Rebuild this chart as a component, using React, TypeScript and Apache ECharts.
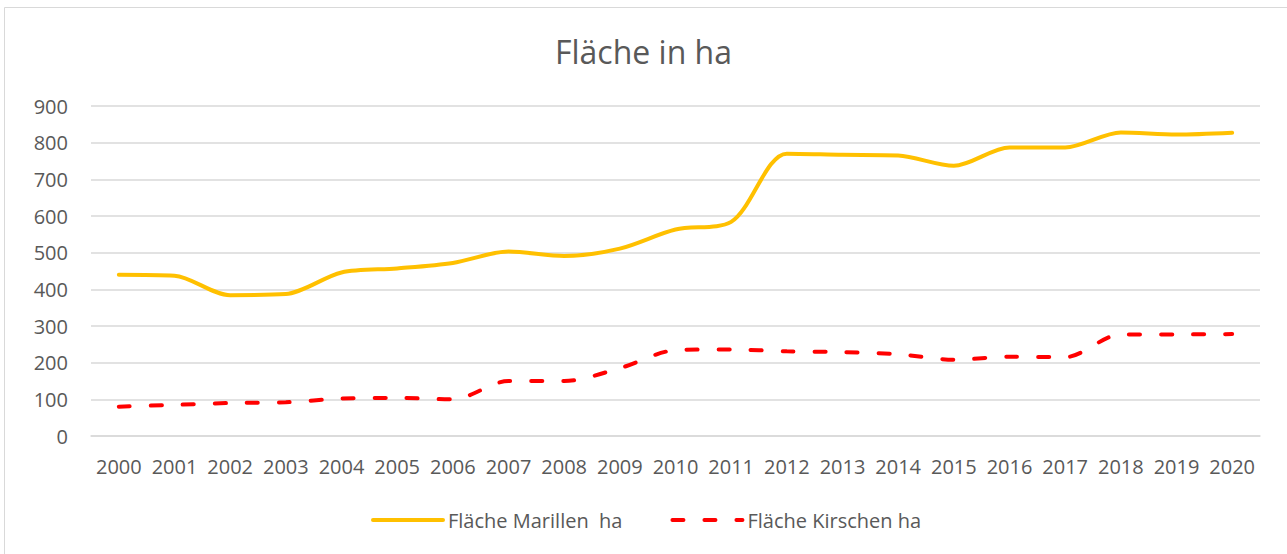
import React, { useEffect, useRef } from "react";
import * as echarts from "echarts";

const years = ["2000","2001","2002","2003","2004","2005","2006","2007","2008","2009","2010","2011","2012","2013","2014","2015","2016","2017","2018","2019","2020"];
const marillen = [440, 437, 384, 387, 446, 457, 472, 503, 491, 511, 563, 584, 770, 767, 765, 737, 787, 787, 828, 822, 827];
const kirschen = [80, 85, 90, 92, 102, 104, 100, 150, 150, 185, 234, 236, 231, 229, 223, 208, 216, 215, 277, 277, 278];
const yTicks = { min: 0, max: 900, interval: 100 };

const FONT = "'Open Sans', 'Noto Sans', sans-serif";
const TXT = "#595959";

export default function App() {
  const ref = useRef<HTMLDivElement>(null);
  useEffect(() => {
    if (!ref.current) return;
    const chart = echarts.init(ref.current, undefined, { renderer: "svg" });
    chart.setOption({
      animation: false,
      backgroundColor: "#ffffff",
      title: {
        text: "Fläche in ha",
        left: "center",
        top: 30,
        textStyle: { fontFamily: FONT, fontSize: 32, fontWeight: "normal", color: TXT },
      },
      graphic: [
        {
          type: "rect",
          shape: { x: 4.5, y: 7.5, width: 1400, height: 700 },
          style: { fill: "none", stroke: "#D9D9D9", lineWidth: 1 },
          silent: true,
        },
      ],
      legend: {
        left: 366,
        top: 505,
        itemWidth: 70,
        itemHeight: 14,
        itemGap: 48,
        itemStyle: { opacity: 0 },
        lineStyle: { width: 4, cap: "round" },
        textStyle: { fontFamily: FONT, fontSize: 20, color: TXT },
        data: ["Fläche Marillen  ha", "Fläche Kirschen ha"],
      },
      grid: { left: 91, right: 27, top: 106, bottom: 118, containLabel: false },
      xAxis: {
        type: "category",
        data: years,
        boundaryGap: true,
        axisLine: { lineStyle: { color: "#D9D9D9", width: 1.5 } },
        axisTick: { show: false },
        axisLabel: { fontFamily: FONT, fontSize: 20, color: TXT, margin: 20, interval: 0 },
      },
      yAxis: {
        type: "value",
        min: yTicks.min,
        max: yTicks.max,
        interval: yTicks.interval,
        axisLine: { show: false },
        axisTick: { show: false },
        axisLabel: { fontFamily: FONT, fontSize: 20, color: TXT, margin: 23 },
        splitLine: { lineStyle: { color: "#D9D9D9", width: 1.5 } },
      },
      series: [
        {
          name: "Fläche Marillen  ha",
          type: "line",
          data: marillen,
          smooth: 0.3,
          symbol: "none",
          itemStyle: { color: "#FFC000" },
          lineStyle: { color: "#FFC000", width: 4, cap: "round" },
        },
        {
          name: "Fläche Kirschen ha",
          type: "line",
          data: kirschen,
          smooth: 0.3,
          symbol: "none",
          itemStyle: { color: "#FF0000" },
          lineStyle: { color: "#FF0000", width: 4, type: [11, 21], cap: "round" },
        },
      ],
    });
    return () => chart.dispose();
  }, []);
  return (
    <div
      ref={ref}
      style={{ position: "fixed", left: 0, top: 0, width: 1287, height: 554 }}
    />
  );
}
